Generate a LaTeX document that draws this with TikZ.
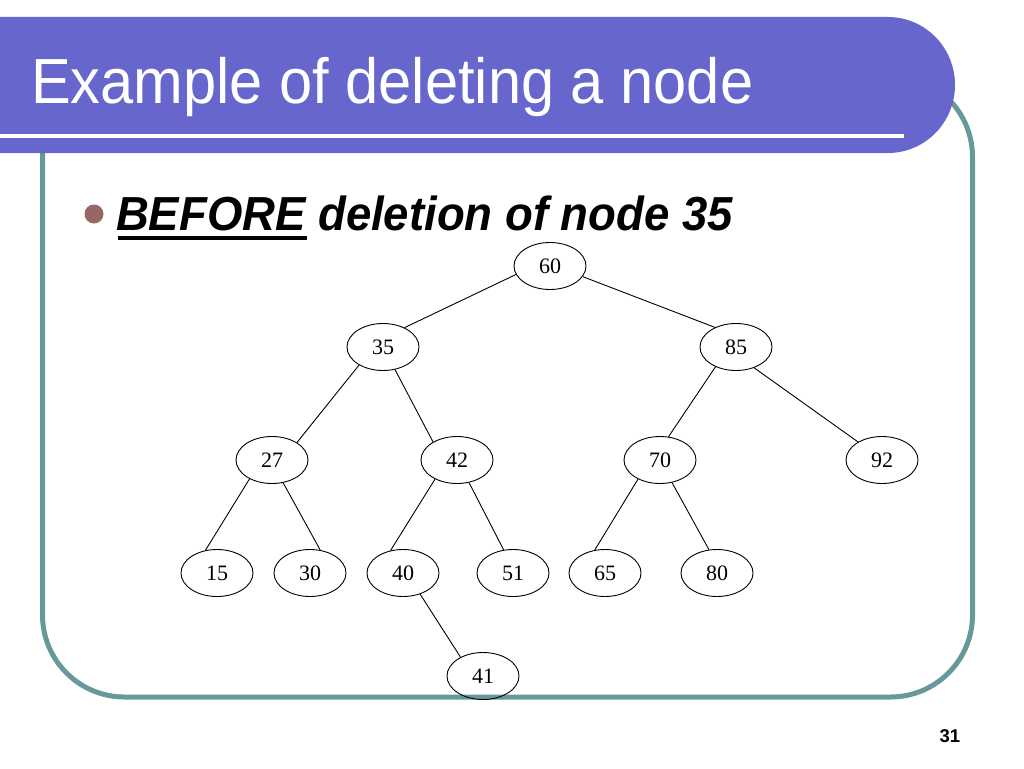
\documentclass[tikz,border=0pt]{standalone}
\usepackage{fontspec}
\setmainfont{Liberation Serif}
\newfontfamily\arial{Liberation Sans}
\usetikzlibrary{shapes.geometric}
\definecolor{barblue}{RGB}{102,102,204}
\definecolor{frameteal}{RGB}{102,153,153}
\definecolor{bulletrose}{RGB}{153,102,102}
\tikzset{
  treenode/.style={draw=black, line width=0.9pt, ellipse, minimum width=72pt, minimum height=47pt, inner sep=0pt, font=\fontsize{22}{24}\selectfont},
  edge/.style={draw=black, line width=0.9pt},
  plain/.style={inner sep=0pt, outer sep=0pt}
}
\begin{document}
\begin{tikzpicture}[x=1pt,y=-1pt]
\useasboundingbox (0,0) rectangle (1024,768);
\fill[white] (0,0) rectangle (1024,768);
% frame
\draw[frameteal, line width=5pt, rounded corners=82pt] (42.5,75) rectangle (972.5,697);
% title bar
\fill[barblue] (0,17) -- (888,17) arc[start angle=90, end angle=-90, x radius=67pt, y radius=68pt] -- (0,153) -- cycle;
\fill[white] (0,133.5) rectangle (904,137.5);
\node[plain, anchor=base west, text=white, font=\arial\fontsize{59.6}{70}\selectfont] (title) at (31,103) {\scalebox{1}[1.07]{Example of deleting a node}};
% bullet
\fill[bulletrose] (94,214) circle[radius=9.5pt];
\node[plain, anchor=base west, font=\arial\bfseries\itshape\fontsize{45.5}{52}\selectfont] (bef) at (116,230) {\scalebox{1}[1.05]{BEFORE}};
\node[plain, anchor=base west, font=\arial\bfseries\itshape\fontsize{45.5}{52}\selectfont] (rest) at (bef.base east) {\scalebox{1}[1.05]{\ deletion of node 35}};
\fill[black] (118,236) rectangle (307,239.5);
% tree nodes
\node[treenode] (n60) at (550,266) {60};
\node[treenode] (n35) at (383,347) {35};
\node[treenode] (n85) at (736,347) {85};
\node[treenode] (n27) at (272,460) {27};
\node[treenode] (n42) at (457,460) {42};
\node[treenode] (n70) at (660,460) {70};
\node[treenode] (n92) at (882,460) {92};
\node[treenode] (n15) at (217,573) {15};
\node[treenode] (n30) at (310,573) {30};
\node[treenode] (n40) at (403,573) {40};
\node[treenode] (n51) at (513,573) {51};
\node[treenode] (n65) at (605,573) {65};
\node[treenode] (n80) at (717,573) {80};
\node[treenode] (n41) at (483,676) {41};
% edges
\draw[edge] (n60.194) -- (n35.42);
\draw[edge] (n60.342) -- (n85.137);
\draw[edge] (n35.217) -- (n27.35);
\draw[edge] (n35.298) -- (n42.143);
\draw[edge] (n85.224) -- (n70.70);
\draw[edge] (n85.311) -- (n92.143);
\draw[edge] (n27.220) -- (n15.117);
\draw[edge] (n27.296) -- (n30.66);
\draw[edge] (n42.221) -- (n40.119);
\draw[edge] (n42.298) -- (n51.112);
\draw[edge] (n70.221) -- (n65.114);
\draw[edge] (n70.298) -- (n80.109);
\draw[edge] (n40.309) -- (n41.140);
% page number
\node[plain, anchor=base west, font=\arial\bfseries\fontsize{18.5}{22}\selectfont] (pg) at (939.5,742) {31};
\end{tikzpicture}
\end{document}
